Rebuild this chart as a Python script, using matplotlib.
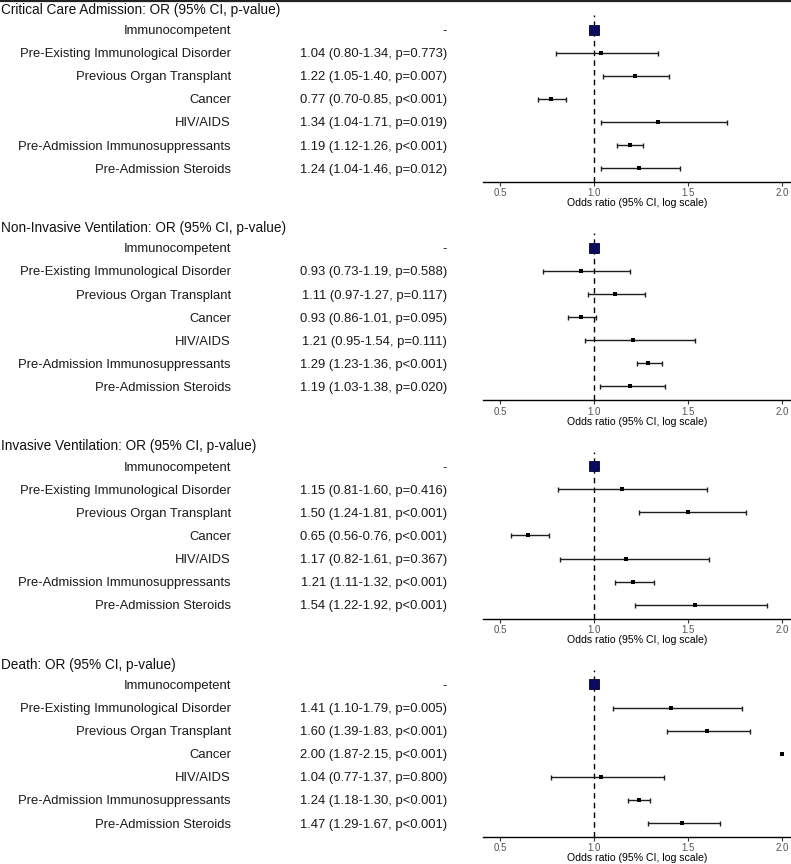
import matplotlib
matplotlib.use("Agg")
import matplotlib.pyplot as plt
import matplotlib.transforms as mtransforms
from matplotlib.lines import Line2D
import numpy as np

plt.rcParams['font.family'] = ['Liberation Sans', 'DejaVu Sans']

# data
outcomes = ["Critical Care Admission", "Non-Invasive Ventilation",
            "Invasive Ventilation", "Death"]
groups = ["Immunocompetent", "Pre-Existing Immunological Disorder",
          "Previous Organ Transplant", "Cancer", "HIV/AIDS",
          "Pre-Admission Immunosuppressants", "Pre-Admission Steroids"]
# approximate group sizes (marker area)
group_n = [108000, 10000, 13000, 17000, 10000, 26500, 13000]

or_cc = [1.00, 1.04, 1.22, 0.77, 1.34, 1.19, 1.24]
lo_cc = [None, 0.80, 1.05, 0.70, 1.04, 1.12, 1.04]
hi_cc = [None, 1.34, 1.40, 0.85, 1.71, 1.26, 1.46]
p_cc = [None, "p=0.773", "p=0.007", "p<0.001", "p=0.019", "p<0.001", "p=0.012"]

or_niv = [1.00, 0.93, 1.11, 0.93, 1.21, 1.29, 1.19]
lo_niv = [None, 0.73, 0.97, 0.86, 0.95, 1.23, 1.03]
hi_niv = [None, 1.19, 1.27, 1.01, 1.54, 1.36, 1.38]
p_niv = [None, "p=0.588", "p=0.117", "p=0.095", "p=0.111", "p<0.001", "p=0.020"]

or_iv = [1.00, 1.15, 1.50, 0.65, 1.17, 1.21, 1.54]
lo_iv = [None, 0.81, 1.24, 0.56, 0.82, 1.11, 1.22]
hi_iv = [None, 1.60, 1.81, 0.76, 1.61, 1.32, 1.92]
p_iv = [None, "p=0.416", "p<0.001", "p<0.001", "p=0.367", "p<0.001", "p<0.001"]

or_death = [1.00, 1.41, 1.60, 2.00, 1.04, 1.24, 1.47]
lo_death = [None, 1.10, 1.39, 1.87, 0.77, 1.18, 1.29]
hi_death = [None, 1.79, 1.83, 2.15, 1.37, 1.30, 1.67]
p_death = [None, "p=0.005", "p<0.001", "p<0.001", "p=0.800", "p<0.001", "p<0.001"]

panels = [(or_cc, lo_cc, hi_cc, p_cc), (or_niv, lo_niv, hi_niv, p_niv),
          (or_iv, lo_iv, hi_iv, p_iv), (or_death, lo_death, hi_death, p_death)]

W, H = 791, 864
fig = plt.figure(figsize=(W / 100, H / 100), dpi=100)

xmin, xmax = 0.41, 2.048
ax_left = 483 / W

for i, (name, (ors, los, his, ps)) in enumerate(zip(outcomes, panels)):
    bottom_px = 182 + 218.3 * i
    ax = fig.add_axes([ax_left, 1 - bottom_px / H, 1 - ax_left, 167 / H])
    ax.set_xlim(xmin, xmax)
    ax.set_ylim(6.6, -0.63)
    ax.axvline(1.0, color="black", ls=(0, (4, 3)), lw=1.0, zorder=1)
    rows = np.arange(len(groups))
    for r in rows:
        # like ggplot, bars running past the axis limits are dropped
        if los[r] is not None and xmin <= los[r] and his[r] <= xmax:
            ax.errorbar(ors[r], r, xerr=[[ors[r] - los[r]], [his[r] - ors[r]]],
                        fmt="none", ecolor="#1e1e1e", elinewidth=1.0,
                        capsize=1.8, capthick=1.0, zorder=2)
        ms = 0.0221 * np.sqrt(group_n[r])
        if r == 0:
            ax.plot(ors[r], r, "s", ms=ms, mfc="#0a0a5e", mec="#000033",
                    mew=0.6, zorder=3, clip_on=False)
        else:
            ax.plot(ors[r], r, "s", ms=ms, color="black", mew=0, zorder=3,
                    clip_on=False)
    for s in ["top", "right", "left"]:
        ax.spines[s].set_visible(False)
    ax.spines["bottom"].set_linewidth(1.0)
    ax.set_yticks([])
    ax.set_xticks([0.5, 1.0, 1.5, 2.0])
    ax.set_xticklabels(["0.5", "1.0", "1.5", "2.0"])
    ax.tick_params(axis="x", length=3, width=0.8, color="#333333",
                   labelsize=7, labelcolor="#555555", pad=1.5)
    ax.set_xlabel("Odds ratio (95% CI, log scale)", fontsize=7.6, labelpad=0)
    ax.patch.set_alpha(0)

    tr = mtransforms.blended_transform_factory(fig.transFigure, ax.transData)
    fig.text(1 / W, -0.92, name + ": OR (95% CI, p-value)", transform=tr,
             fontsize=9.8, ha="left", va="center_baseline", color="#111111")
    for r in rows:
        fig.text(231 / W, r, groups[r], transform=tr, fontsize=9.4,
                 ha="right", va="center_baseline", color="#1a1a1a")
        if los[r] is None:
            label = "-"
        else:
            label = "%.2f (%.2f-%.2f, %s)" % (ors[r], los[r], his[r], ps[r])
        fig.text(447 / W, r, label, transform=tr, fontsize=9.4,
                 ha="right", va="center_baseline", color="#1a1a1a")

fig.add_artist(Line2D([0, 1], [1 - 0.8 / H, 1 - 0.8 / H],
                      transform=fig.transFigure, color="#222222", lw=1.6))

fig.savefig("out.png", dpi=100)
